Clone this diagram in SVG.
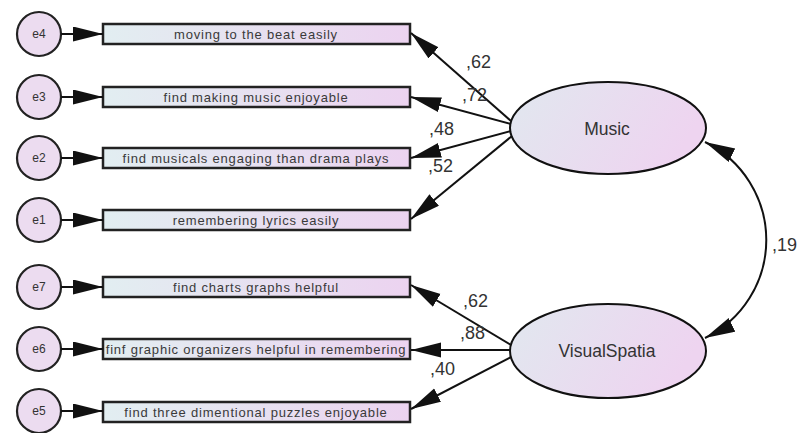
<svg xmlns="http://www.w3.org/2000/svg" width="798" height="433" viewBox="0 0 798 433">
  <defs>
    <linearGradient id="boxFill" x1="0" y1="0" x2="1" y2="0">
      <stop offset="0" stop-color="#e2eef1"/>
      <stop offset="1" stop-color="#ecd3f0"/>
    </linearGradient>
    <linearGradient id="latentFill" x1="0" y1="0" x2="1" y2="0.3">
      <stop offset="0" stop-color="#e1e8ef"/>
      <stop offset="1" stop-color="#eed4f0"/>
    </linearGradient>
    <marker id="head" markerUnits="userSpaceOnUse" markerWidth="32" markerHeight="16" refX="30" refY="7.5" orient="auto-start-reverse" viewBox="0 0 32 16">
      <path d="M0,0 L30,7.5 L0,15 z" fill="#111"/>
    </marker>
  </defs>
  <style>
    .err circle { fill: #ecdcf0; stroke: #222; stroke-width: 2.2; }
    .err text { font-family: "Liberation Sans", Arial, sans-serif; font-size: 12px; fill: #333; text-anchor: middle; }
    .obs rect { fill: url(#boxFill); stroke: #222; stroke-width: 2.5; }
    .obs text { font-family: "Liberation Sans", Arial, sans-serif; font-size: 13px; letter-spacing: 0.8px; fill: #3a3a3a; text-anchor: middle; }
    .lat ellipse { fill: url(#latentFill); stroke: #111; stroke-width: 2; }
    .lat text { font-family: "Liberation Sans", Arial, sans-serif; font-size: 17.5px; fill: #333; text-anchor: middle; }
    .edges line, .edges path { stroke: #111; stroke-width: 2; fill: none; marker-end: url(#head); }
    .edges path { marker-start: url(#head); }
    .wt { font-family: "Liberation Sans", Arial, sans-serif; font-size: 18px; fill: #333; }
  </style>

  <!-- error terms -->
  <g id="e4" class="err"><circle cx="39" cy="34" r="22"/><text x="39" y="38">e4</text></g>
  <g id="e3" class="err"><circle cx="39" cy="97" r="22"/><text x="39" y="101">e3</text></g>
  <g id="e2" class="err"><circle cx="39" cy="158" r="22"/><text x="39" y="162">e2</text></g>
  <g id="e1" class="err"><circle cx="39" cy="220" r="22"/><text x="39" y="224">e1</text></g>
  <g id="e7" class="err"><circle cx="39" cy="287" r="22"/><text x="39" y="291">e7</text></g>
  <g id="e6" class="err"><circle cx="39" cy="349" r="22"/><text x="39" y="353">e6</text></g>
  <g id="e5" class="err"><circle cx="39" cy="411" r="22"/><text x="39" y="415">e5</text></g>

  <!-- observed items -->
  <g id="item_beat" class="obs"><rect x="103" y="24" width="307" height="20"/><text x="256" y="38.5">moving to the beat easily</text></g>
  <g id="item_making" class="obs"><rect x="103" y="87" width="307" height="20"/><text x="256" y="101.5">find making music enjoyable</text></g>
  <g id="item_musicals" class="obs"><rect x="103" y="148" width="307" height="20"/><text x="256" y="162.5">find musicals engaging than drama plays</text></g>
  <g id="item_lyrics" class="obs"><rect x="103" y="210" width="307" height="20"/><text x="256" y="224.5">remembering lyrics easily</text></g>
  <g id="item_charts" class="obs"><rect x="103" y="277" width="307" height="20"/><text x="256" y="291.5">find charts graphs helpful</text></g>
  <g id="item_organizers" class="obs"><rect x="103" y="339" width="307" height="20"/><text x="256" y="353.5">finf graphic organizers helpful in remembering</text></g>
  <g id="item_puzzles" class="obs"><rect x="103" y="402" width="307" height="20"/><text x="256" y="416.5">find three dimentional puzzles enjoyable</text></g>

  <!-- latent factors -->
  <g id="Music" class="lat"><ellipse cx="608" cy="128" rx="98" ry="46"/><text x="607" y="135">Music</text></g>
  <g id="VisualSpatia" class="lat"><ellipse cx="608" cy="351" rx="98" ry="47"/><text x="607" y="357">VisualSpatia</text></g>

  <!-- paths -->
  <g id="connectors" class="edges">
    <line x1="61" y1="34" x2="103" y2="34"/>
    <line x1="61" y1="97" x2="103" y2="97"/>
    <line x1="61" y1="158" x2="103" y2="158"/>
    <line x1="61" y1="220" x2="103" y2="220"/>
    <line x1="61" y1="287" x2="103" y2="287"/>
    <line x1="61" y1="349" x2="103" y2="349"/>
    <line x1="61" y1="411" x2="103" y2="411"/>

    <line x1="511" y1="121" x2="411" y2="33"/>
    <line x1="511" y1="124" x2="411" y2="97"/>
    <line x1="511" y1="131" x2="411" y2="158"/>
    <line x1="512" y1="136" x2="411" y2="219"/>

    <line x1="511" y1="345" x2="411" y2="285"/>
    <line x1="510" y1="350" x2="411" y2="350"/>
    <line x1="511" y1="357" x2="411" y2="409"/>

    <path d="M705,142 A109,109 0 0 1 705,338"/>
  </g>

  <!-- estimates -->
  <g id="estimates" class="wt">
    <text x="466" y="68">,62</text>
    <text x="462" y="101">,72</text>
    <text x="429" y="135">,48</text>
    <text x="428" y="172">,52</text>
    <text x="772" y="251">,19</text>
    <text x="463" y="307">,62</text>
    <text x="460" y="339">,88</text>
    <text x="430" y="375">,40</text>
  </g>
</svg>
